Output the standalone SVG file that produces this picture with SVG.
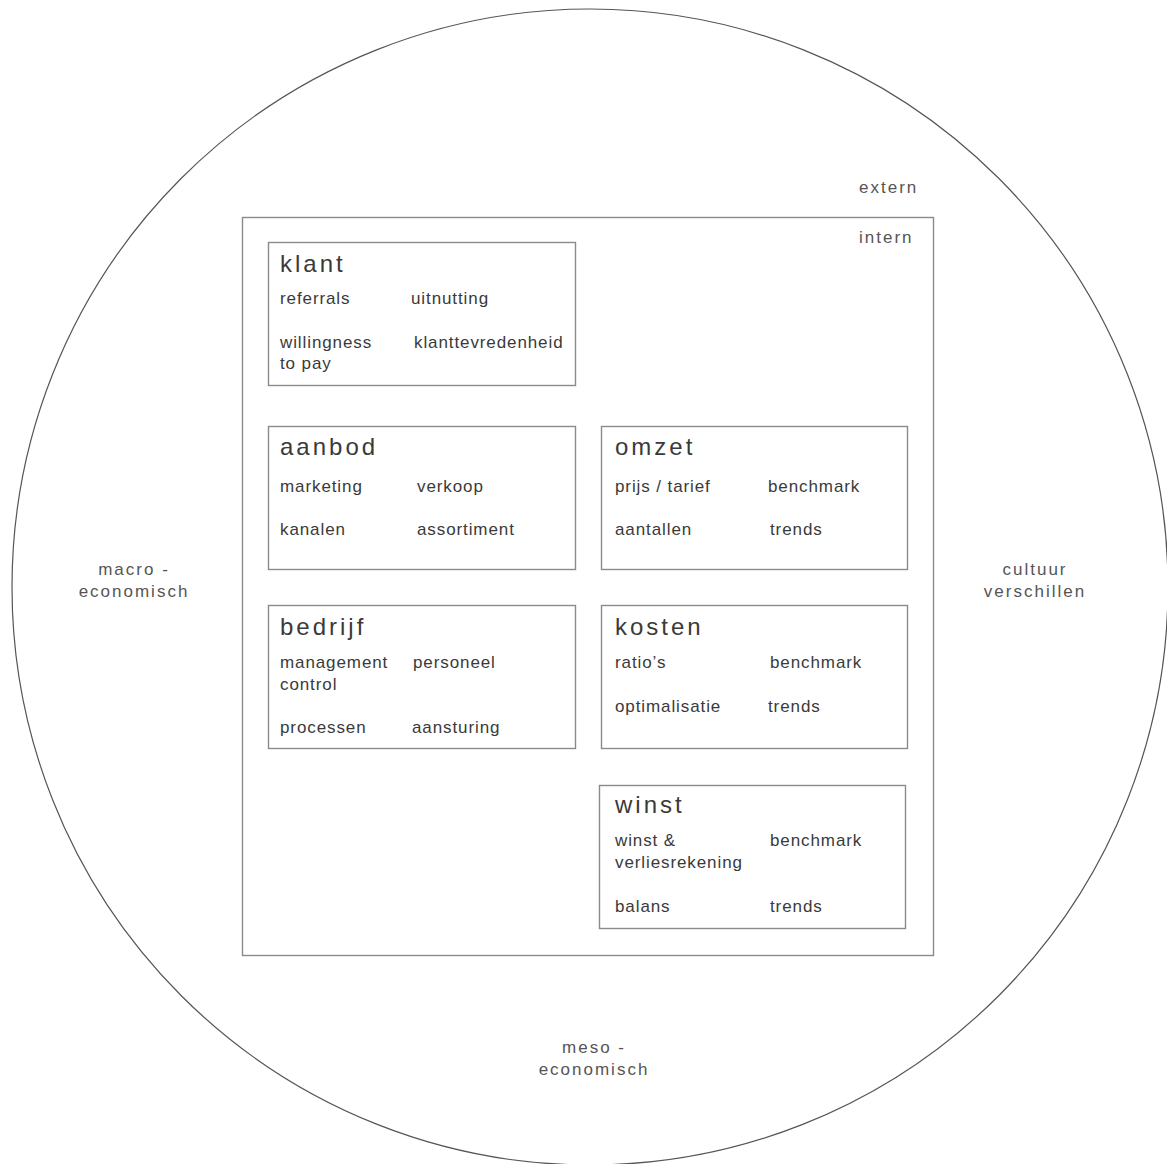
<svg xmlns="http://www.w3.org/2000/svg" width="1167" height="1164" viewBox="0 0 1167 1164">
<style>
.box{fill:#fff;stroke:#8a8a8a;stroke-width:1.4}
.ttl{font-family:"Liberation Sans",Arial,sans-serif;font-size:24px;letter-spacing:3px;fill:#3a3a3a}
.it{font-family:"Liberation Sans",Arial,sans-serif;font-size:17px;letter-spacing:0.9px;fill:#3a3a3a}
.lab{font-family:"Liberation Sans",Arial,sans-serif;font-size:17px;letter-spacing:2px;fill:#555}
</style>
<rect width="1167" height="1164" fill="#fff"/>
<g id="extern">
<circle cx="590" cy="587" r="578" fill="none" stroke="#555" stroke-width="1.2"/>
<text class="lab" x="859" y="193">extern</text>
<text class="lab" x="134" y="575" text-anchor="middle">macro -</text>
<text class="lab" x="134" y="597" text-anchor="middle">economisch</text>
<text class="lab" x="1035" y="575" text-anchor="middle">cultuur</text>
<text class="lab" x="1035" y="597" text-anchor="middle">verschillen</text>
<text class="lab" x="594" y="1053" text-anchor="middle">meso -</text>
<text class="lab" x="594" y="1075" text-anchor="middle">economisch</text>
</g>
<g id="intern">
<rect class="box" x="242.5" y="217.5" width="691" height="738"/>
<text class="lab" x="859" y="243">intern</text>
</g>
<g id="klant">
<rect class="box" x="268.5" y="242.5" width="307" height="143"/>
<text class="ttl" x="280" y="272">klant</text>
<text class="it" x="280" y="304">referrals</text>
<text class="it" x="411" y="304">uitnutting</text>
<text class="it" x="280" y="348">willingness</text>
<text class="it" x="280" y="369">to pay</text>
<text class="it" x="414" y="348">klanttevredenheid</text>
</g>
<g id="aanbod">
<rect class="box" x="268.5" y="426.5" width="307" height="143"/>
<text class="ttl" x="280" y="455">aanbod</text>
<text class="it" x="280" y="492">marketing</text>
<text class="it" x="417" y="492">verkoop</text>
<text class="it" x="280" y="535">kanalen</text>
<text class="it" x="417" y="535">assortiment</text>
</g>
<g id="omzet">
<rect class="box" x="601.5" y="426.5" width="306" height="143"/>
<text class="ttl" x="615" y="455">omzet</text>
<text class="it" x="615" y="492">prijs / tarief</text>
<text class="it" x="768" y="492">benchmark</text>
<text class="it" x="615" y="535">aantallen</text>
<text class="it" x="770" y="535">trends</text>
</g>
<g id="bedrijf">
<rect class="box" x="268.5" y="605.5" width="307" height="143"/>
<text class="ttl" x="280" y="635">bedrijf</text>
<text class="it" x="280" y="668">management</text>
<text class="it" x="280" y="690">control</text>
<text class="it" x="413" y="668">personeel</text>
<text class="it" x="280" y="733">processen</text>
<text class="it" x="412" y="733">aansturing</text>
</g>
<g id="kosten">
<rect class="box" x="601.5" y="605.5" width="306" height="143"/>
<text class="ttl" x="615" y="635">kosten</text>
<text class="it" x="615" y="668">ratio’s</text>
<text class="it" x="770" y="668">benchmark</text>
<text class="it" x="615" y="712">optimalisatie</text>
<text class="it" x="768" y="712">trends</text>
</g>
<g id="winst">
<rect class="box" x="599.5" y="785.5" width="306" height="143"/>
<text class="ttl" x="615" y="813">winst</text>
<text class="it" x="615" y="846">winst &amp;</text>
<text class="it" x="615" y="868">verliesrekening</text>
<text class="it" x="770" y="846">benchmark</text>
<text class="it" x="615" y="912">balans</text>
<text class="it" x="770" y="912">trends</text>
</g>
<g id="connectors"/>
</svg>
